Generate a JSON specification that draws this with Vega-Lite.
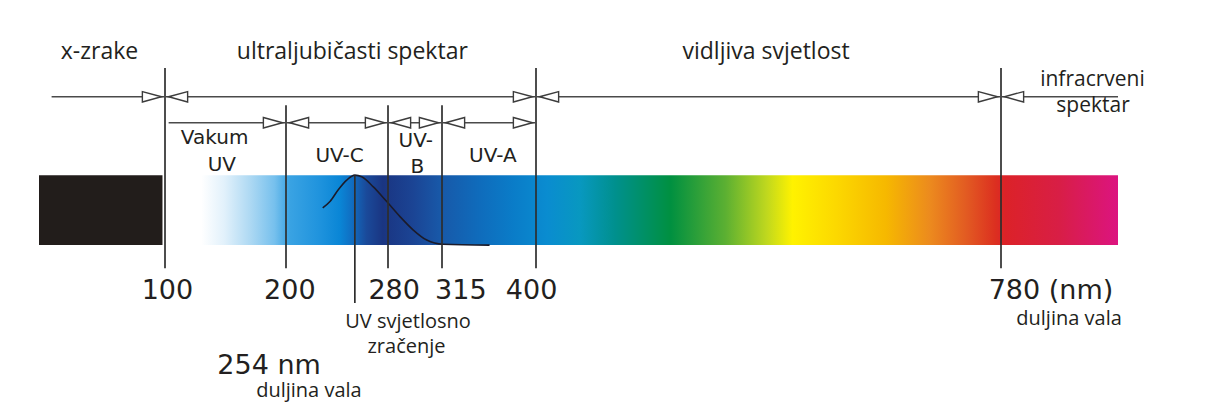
{
  "$schema": "https://vega.github.io/schema/vega-lite/v6.json",
  "width": 1206,
  "height": 419,
  "padding": 0,
  "autosize": {"type": "fit", "contains": "padding"},
  "background": "white",
  "config": {"view": {"stroke": null}},
  "datasets": {
    "bars": [
      {"band": "x-zrake", "nm0": 0, "nm1": 98, "top": 58.2, "bottom": 41.5},
      {"band": "spektar", "nm0": 130, "nm1": 1000, "top": 58.2, "bottom": 41.5}
    ],
    "curve": [
      {"nm": 228.8, "v": 50.4},
      {"nm": 234.5, "v": 51.9},
      {"nm": 241.0, "v": 54.7},
      {"nm": 247.6, "v": 57.0},
      {"nm": 254.0, "v": 58.2},
      {"nm": 259.4, "v": 57.8},
      {"nm": 268.5, "v": 55.4},
      {"nm": 279.0, "v": 51.9},
      {"nm": 287.8, "v": 48.3},
      {"nm": 296.4, "v": 45.1},
      {"nm": 305.1, "v": 42.7},
      {"nm": 316.0, "v": 41.7},
      {"nm": 358.0, "v": 41.5}
    ],
    "vlines": [
      {"nm": 100, "top": 83.8, "bottom": 36.0},
      {"nm": 200, "top": 74.9, "bottom": 36.0},
      {"nm": 280, "top": 74.9, "bottom": 36.0},
      {"nm": 315, "top": 74.9, "bottom": 36.0},
      {"nm": 400, "top": 83.8, "bottom": 36.0},
      {"nm": 780, "top": 83.8, "bottom": 36.0},
      {"nm": 254, "top": 58.2, "bottom": 27.7}
    ],
    "spans": [
      {"row": 76.9, "from": 10, "to": 100},
      {"row": 76.9, "from": 100, "to": 400},
      {"row": 76.9, "from": 400, "to": 780},
      {"row": 76.9, "from": 780, "to": 1000},
      {"row": 70.7, "from": 103, "to": 200},
      {"row": 70.7, "from": 200, "to": 280},
      {"row": 70.7, "from": 280, "to": 315},
      {"row": 70.7, "from": 315, "to": 400}
    ],
    "heads": [
      {"nm": 100, "row": 76.9, "dir": "right"},
      {"nm": 100, "row": 76.9, "dir": "left"},
      {"nm": 400, "row": 76.9, "dir": "right"},
      {"nm": 400, "row": 76.9, "dir": "left"},
      {"nm": 780, "row": 76.9, "dir": "right"},
      {"nm": 780, "row": 76.9, "dir": "left"},
      {"nm": 200, "row": 70.7, "dir": "right"},
      {"nm": 200, "row": 70.7, "dir": "left"},
      {"nm": 280, "row": 70.7, "dir": "right"},
      {"nm": 280, "row": 70.7, "dir": "left"},
      {"nm": 315, "row": 70.7, "dir": "right"},
      {"nm": 315, "row": 70.7, "dir": "left"},
      {"nm": 400, "row": 70.7, "dir": "right"}
    ],
    "labels": [
      {"kind": "title", "text": "x-zrake", "nm": 48, "v": 85.9},
      {"kind": "title", "text": "ultraljubičasti spektar", "nm": 252, "v": 85.9},
      {"kind": "title", "text": "vidljiva svjetlost", "nm": 588, "v": 85.9},
      {"kind": "side", "text": "infracrveni", "nm": 952, "v": 79.5},
      {"kind": "side", "text": "spektar", "nm": 953, "v": 73.3},
      {"kind": "band", "text": "Vakum", "nm": 141, "v": 65.6},
      {"kind": "band", "text": "UV", "nm": 147, "v": 59.2},
      {"kind": "band", "text": "UV-C", "nm": 242, "v": 61.4},
      {"kind": "band", "text": "UV-", "nm": 298, "v": 64.8},
      {"kind": "band", "text": "B", "nm": 299, "v": 58.8},
      {"kind": "band", "text": "UV-A", "nm": 361, "v": 61.4},
      {"kind": "tick", "text": "100", "nm": 102, "v": 28.6},
      {"kind": "tick", "text": "200", "nm": 203, "v": 28.6},
      {"kind": "tick", "text": "280", "nm": 284, "v": 28.6},
      {"kind": "tick", "text": "315", "nm": 332, "v": 28.6},
      {"kind": "tick", "text": "400", "nm": 396, "v": 28.6},
      {"kind": "tick", "text": "780 (nm)", "nm": 874, "v": 28.6},
      {"kind": "tick", "text": "254 nm", "nm": 186, "v": 10.7},
      {"kind": "note", "text": "UV svjetlosno", "nm": 293, "v": 21.8},
      {"kind": "note", "text": "zračenje", "nm": 292, "v": 15.7},
      {"kind": "note", "text": "duljina vala", "nm": 218, "v": 5.25},
      {"kind": "note", "text": "duljina vala", "nm": 908, "v": 22.4}
    ]
  },
  "layer": [
    {
      "data": {"name": "bars"},
      "transform": [{"filter": "datum.band === 'spektar'"}],
      "mark": {
        "type": "rect",
        "fill": {
          "gradient": "linear", "x1": 0, "y1": 0, "x2": 1, "y2": 0,
          "stops": [
            {"offset": 0, "color": "#ffffff"},
            {"offset": 0.025, "color": "#e2f1fb"},
            {"offset": 0.053, "color": "#aed9f3"},
            {"offset": 0.08, "color": "#76c0ed"},
            {"offset": 0.096, "color": "#3aa3e3"},
            {"offset": 0.129, "color": "#1f93dd"},
            {"offset": 0.151, "color": "#0a86d6"},
            {"offset": 0.164, "color": "#106ec2"},
            {"offset": 0.18, "color": "#1a4a9a"},
            {"offset": 0.198, "color": "#1a3582"},
            {"offset": 0.231, "color": "#1b4494"},
            {"offset": 0.26, "color": "#1858a8"},
            {"offset": 0.304, "color": "#0f6cbc"},
            {"offset": 0.34, "color": "#0a7cc8"},
            {"offset": 0.377, "color": "#0a8cd0"},
            {"offset": 0.413, "color": "#0898c0"},
            {"offset": 0.451, "color": "#00908e"},
            {"offset": 0.512, "color": "#009040"},
            {"offset": 0.572, "color": "#5cb032"},
            {"offset": 0.617, "color": "#c0d81e"},
            {"offset": 0.645, "color": "#fff200"},
            {"offset": 0.693, "color": "#fcd800"},
            {"offset": 0.747, "color": "#f6b800"},
            {"offset": 0.795, "color": "#ec8a1e"},
            {"offset": 0.835, "color": "#e25a22"},
            {"offset": 0.866, "color": "#dc3020"},
            {"offset": 0.877, "color": "#dc2228"},
            {"offset": 0.936, "color": "#d81e46"},
            {"offset": 1, "color": "#dc1480"}
          ]
        }
      },
      "encoding": {
        "x": {
          "field": "nm0", "type": "quantitative", "axis": null,
          "scale": {
            "type": "linear", "nice": false, "zero": false, "clamp": false,
            "domain": [0, 100, 200, 280, 315, 400, 780, 1000],
            "range": [39, 165, 286, 388, 442, 536, 1001, 1118]
          }
        },
        "x2": {"field": "nm1"},
        "y": {
          "field": "top", "type": "quantitative", "axis": null,
          "scale": {"domain": [0, 100], "nice": false, "zero": false}
        },
        "y2": {"field": "bottom"}
      }
    },
    {
      "data": {"name": "bars"},
      "transform": [{"filter": "datum.band === 'x-zrake'"}],
      "mark": {"type": "rect", "fill": "#221d1b"},
      "encoding": {
        "x": {"field": "nm0", "type": "quantitative", "axis": null},
        "x2": {"field": "nm1"},
        "y": {"field": "top", "type": "quantitative", "axis": null},
        "y2": {"field": "bottom"}
      }
    },
    {
      "data": {"name": "curve"},
      "mark": {"type": "line", "stroke": "#1b1b2a", "strokeWidth": 1.6, "interpolate": "monotone"},
      "encoding": {
        "x": {"field": "nm", "type": "quantitative", "axis": null},
        "y": {"field": "v", "type": "quantitative", "axis": null}
      }
    },
    {
      "data": {"name": "vlines"},
      "mark": {"type": "rule", "stroke": "#2e2e2e", "strokeWidth": 1.7},
      "encoding": {
        "x": {"field": "nm", "type": "quantitative", "axis": null},
        "y": {"field": "top", "type": "quantitative", "axis": null},
        "y2": {"field": "bottom"}
      }
    },
    {
      "data": {"name": "spans"},
      "mark": {"type": "rule", "stroke": "#4a4a4a", "strokeWidth": 1.4},
      "encoding": {
        "x": {"field": "from", "type": "quantitative", "axis": null},
        "x2": {"field": "to"},
        "y": {"field": "row", "type": "quantitative", "axis": null}
      }
    },
    {
      "data": {"name": "heads"},
      "transform": [{"filter": "datum.dir === 'right'"}],
      "mark": {
        "type": "point", "filled": true, "fill": "white", "stroke": "#3c3c3c",
        "strokeWidth": 1.4, "opacity": 1, "size": 800,
        "shape": "M-0.25,0L-1.6,-0.37L-1.6,0.37Z"
      },
      "encoding": {
        "x": {"field": "nm", "type": "quantitative", "axis": null},
        "y": {"field": "row", "type": "quantitative", "axis": null}
      }
    },
    {
      "data": {"name": "heads"},
      "transform": [{"filter": "datum.dir === 'left'"}],
      "mark": {
        "type": "point", "filled": true, "fill": "white", "stroke": "#3c3c3c",
        "strokeWidth": 1.4, "opacity": 1, "size": 800,
        "shape": "M0.25,0L1.6,-0.37L1.6,0.37Z"
      },
      "encoding": {
        "x": {"field": "nm", "type": "quantitative", "axis": null},
        "y": {"field": "row", "type": "quantitative", "axis": null}
      }
    },
    {
      "data": {"name": "labels"},
      "transform": [{"filter": "datum.kind === 'title'"}],
      "mark": {"type": "text", "font": "Open Sans", "fontSize": 23, "fill": "#231f20", "align": "center", "baseline": "alphabetic"},
      "encoding": {
        "x": {"field": "nm", "type": "quantitative", "axis": null},
        "y": {"field": "v", "type": "quantitative", "axis": null},
        "text": {"field": "text"}
      }
    },
    {
      "data": {"name": "labels"},
      "transform": [{"filter": "datum.kind === 'side'"}],
      "mark": {"type": "text", "font": "Open Sans", "fontSize": 21, "fill": "#231f20", "align": "center", "baseline": "alphabetic"},
      "encoding": {
        "x": {"field": "nm", "type": "quantitative", "axis": null},
        "y": {"field": "v", "type": "quantitative", "axis": null},
        "text": {"field": "text"}
      }
    },
    {
      "data": {"name": "labels"},
      "transform": [{"filter": "datum.kind === 'band'"}],
      "mark": {"type": "text", "font": "DejaVu Sans", "fontSize": 20, "fill": "#231f20", "align": "center", "baseline": "alphabetic"},
      "encoding": {
        "x": {"field": "nm", "type": "quantitative", "axis": null},
        "y": {"field": "v", "type": "quantitative", "axis": null},
        "text": {"field": "text"}
      }
    },
    {
      "data": {"name": "labels"},
      "transform": [{"filter": "datum.kind === 'tick'"}],
      "mark": {"type": "text", "font": "DejaVu Sans", "fontSize": 27, "fill": "#231f20", "align": "center", "baseline": "alphabetic"},
      "encoding": {
        "x": {"field": "nm", "type": "quantitative", "axis": null},
        "y": {"field": "v", "type": "quantitative", "axis": null},
        "text": {"field": "text"}
      }
    },
    {
      "data": {"name": "labels"},
      "transform": [{"filter": "datum.kind === 'note'"}],
      "mark": {"type": "text", "font": "Open Sans", "fontSize": 20, "fill": "#231f20", "align": "center", "baseline": "alphabetic"},
      "encoding": {
        "x": {"field": "nm", "type": "quantitative", "axis": null},
        "y": {"field": "v", "type": "quantitative", "axis": null},
        "text": {"field": "text"}
      }
    }
  ]
}
